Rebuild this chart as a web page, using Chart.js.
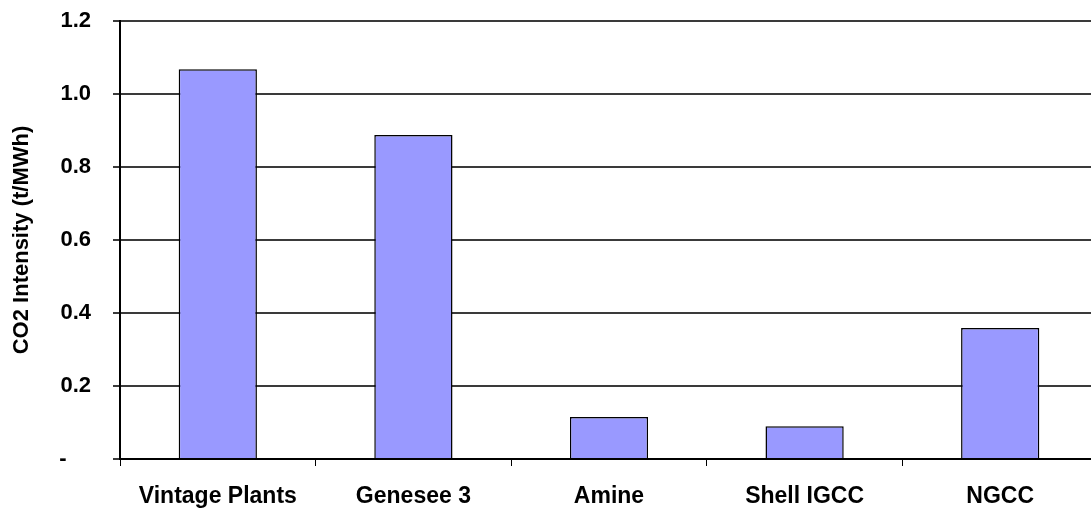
<!DOCTYPE html>
<html>
<head>
<meta charset="utf-8">
<script src="https://cdn.jsdelivr.net/npm/chart.js"></script>
<style>
  html, body { margin: 0; padding: 0; background: #fff; overflow: hidden; }
  #wrap { width: 1098px; height: 508px; }
</style>
</head>
<body>
<div id="wrap"><canvas id="myChart" width="1098" height="508"></canvas></div>
<script>
// CO2 intensity by plant type (t/MWh)
var plants = ['Vintage Plants', 'Genesee 3', 'Amine', 'Shell IGCC', 'NGCC'];
var intensity = [1.068, 0.888, 0.115, 0.09, 0.359];
var yTicks = [0, 0.2, 0.4, 0.6, 0.8, 1.0, 1.2];

Chart.defaults.font.family = '"Liberation Sans", Arial, sans-serif';
Chart.defaults.color = '#000';

let ctx = document.getElementById('myChart').getContext('2d');

let chart1 = new Chart(ctx, {
    type: 'bar',
    data: {
        labels: plants,
        datasets: [{
            data: intensity,
            backgroundColor: '#9999FF',
            borderColor: '#000',
            borderWidth: 1.5,
            barPercentage: 0.40,
            categoryPercentage: 1.0
        }]
    },
    options: {
        responsive: false,
        animation: false,
        layout: { padding: { top: 21, right: 0, left: 0, bottom: 0 } },
        plugins: {
            legend: { display: false },
            tooltip: { enabled: false }
        },
        scales: {
            x: {
                offset: true,
                grid: {
                    offset: true,
                    drawOnChartArea: false,
                    color: '#000',
                    lineWidth: 1,
                    tickLength: 7
                },
                border: { color: '#000', width: 2 },
                ticks: {
                    font: { size: 23, weight: 'bold' },
                    padding: 17,
                    maxRotation: 0
                },
                afterFit: function (s) { s.height = 49; }
            },
            y: {
                min: 0,
                max: 1.2,
                afterBuildTicks: function (s) {
                    s.ticks = yTicks.map(function (v) { return { value: v }; });
                },
                grid: {
                    color: '#3a3a3a',
                    lineWidth: 2,
                    tickLength: 7
                },
                border: { color: '#000', width: 2 },
                ticks: {
                    font: { size: 22, weight: 'bold' },
                    padding: 22,
                    callback: function (v) {
                        return v === 0 ? '-    ' : v.toFixed(1);
                    }
                },
                title: {
                    display: true,
                    text: 'CO2 Intensity (t/MWh)',
                    font: { size: 22, weight: 'bold' },
                    padding: { top: 9, bottom: 0 }
                },
                afterFit: function (s) {
                    s.width = 120;
                    s.paddingTop = 0;
                    s.paddingBottom = 0;
                }
            }
        }
    }
});
</script>
</body>
</html>
